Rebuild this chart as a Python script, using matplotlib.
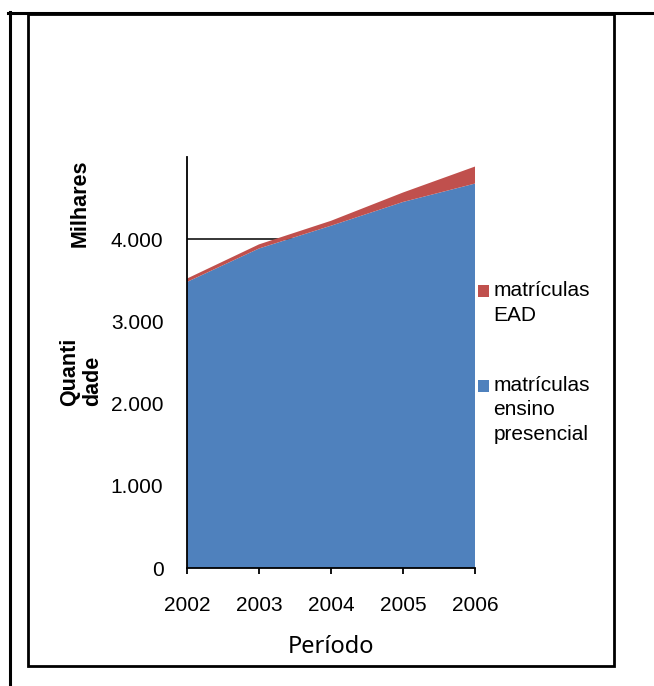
import matplotlib
matplotlib.use("Agg")
import matplotlib.pyplot as plt
from matplotlib.patches import Patch, Rectangle
from matplotlib.lines import Line2D
from matplotlib.legend_handler import HandlerPatch

# Matrículas no ensino superior (milhares)
anos = [2002, 2003, 2004, 2005, 2006]
presencial = [3480, 3887, 4164, 4453, 4677]
ead = [41, 50, 60, 115, 207]
yticks = [0, 1000, 2000, 3000, 4000]
ytick_labels = ["0", "1.000", "2.000", "3.000", "4.000"]
serie_nomes = ["matrículas\nensino\npresencial", "matrículas\nEAD"]

W, H = 654, 686
DPI = 100
AZUL = "#4F81BD"
VERMELHO = "#C0504D"
FS = 15
LINESP = 1.37

plt.rcParams["font.family"] = ["Liberation Sans", "DejaVu Sans"]

fig = plt.figure(figsize=(W / DPI, H / DPI), dpi=DPI)


def fx(px):
    return px / W


def fy(py):
    return 1 - py / H


# plot area in pixel terms
x0, x1, ytop, ybot = 187, 475, 157, 568
ax = fig.add_axes([fx(x0), fy(ybot), fx(x1 - x0), fy(ytop) - fy(ybot)])

ax.stackplot(anos, presencial, ead, colors=[AZUL, VERMELHO],
             labels=serie_nomes, zorder=3, linewidth=0)

ax.set_xlim(anos[0], anos[-1])
ax.set_ylim(0, 5000)
ax.set_xticks(anos)
ax.set_xticklabels([str(a) for a in anos], fontsize=FS)
ax.set_yticks(yticks)
ax.set_yticklabels(ytick_labels, fontsize=FS)

ax.yaxis.grid(True, color="black", linewidth=1.1, zorder=1)
ax.set_axisbelow(True)

for s in ["top", "right"]:
    ax.spines[s].set_visible(False)
ax.spines["left"].set_linewidth(1.3)
ax.spines["bottom"].set_linewidth(1.3)
ax.spines["left"].set_zorder(4)
ax.spines["bottom"].set_zorder(4)
ax.tick_params(axis="y", length=0, pad=17)
ax.tick_params(axis="x", length=4.5, width=1.3, direction="out", pad=15.5)


class FirstLineHandler(HandlerPatch):
    """Square legend key placed beside the first line of a multi-line label."""

    def __init__(self, nlines):
        super().__init__()
        self.nlines = nlines

    def create_artists(self, legend, orig_handle, xdescent, ydescent,
                       width, height, fontsize, trans):
        step = fontsize * LINESP * 0.84
        shift = (self.nlines - 1) / 2 * step
        p = Rectangle((-xdescent, -ydescent + shift), width, height,
                      facecolor=orig_handle.get_facecolor(),
                      edgecolor="none", transform=trans)
        return [p]


# legend: EAD first, then presencial
h_ead = Patch(facecolor=VERMELHO, edgecolor="none")
h_pres = Patch(facecolor=AZUL, edgecolor="none")
leg = fig.legend([h_ead, h_pres], [serie_nomes[1], serie_nomes[0]],
                 loc="upper left", bbox_to_anchor=(fx(478), fy(281)),
                 frameon=False, fontsize=FS, handlelength=0.55,
                 handleheight=0.55, handletextpad=0.2, borderpad=0,
                 labelspacing=2.45, borderaxespad=0,
                 handler_map={h_ead: FirstLineHandler(2),
                              h_pres: FirstLineHandler(3)})
for t in leg.get_texts():
    t.set_linespacing(LINESP)

# axis titles
fig.text(fx(80), fy(203), "Milhares", rotation=90, fontsize=15.5,
         fontweight="bold", ha="center", va="center")
fig.text(fx(81), fy(372), "Quanti\ndade", rotation=90, fontsize=15.5,
         fontweight="bold", ha="center", va="center",
         multialignment="left", linespacing=1.15)
fig.text(fx(331), fy(647), "Período", fontsize=17, ha="center",
         va="center", family=["Noto Sans", "DejaVu Sans"])

# surrounding frame
tf = fig.transFigure
fig.add_artist(Line2D([fx(9.5), fx(9.5)], [fy(12), fy(686)], color="black",
                      linewidth=2.2, transform=tf))
fig.add_artist(Line2D([fx(8), fx(654)], [fy(13), fy(13)], color="black",
                      linewidth=2.2, transform=tf))
fig.add_artist(Rectangle((fx(28), fy(666)), fx(614) - fx(28),
                         fy(14) - fy(666), fill=False, edgecolor="black",
                         linewidth=2.0, transform=tf))

fig.savefig("out.png", dpi=DPI)
